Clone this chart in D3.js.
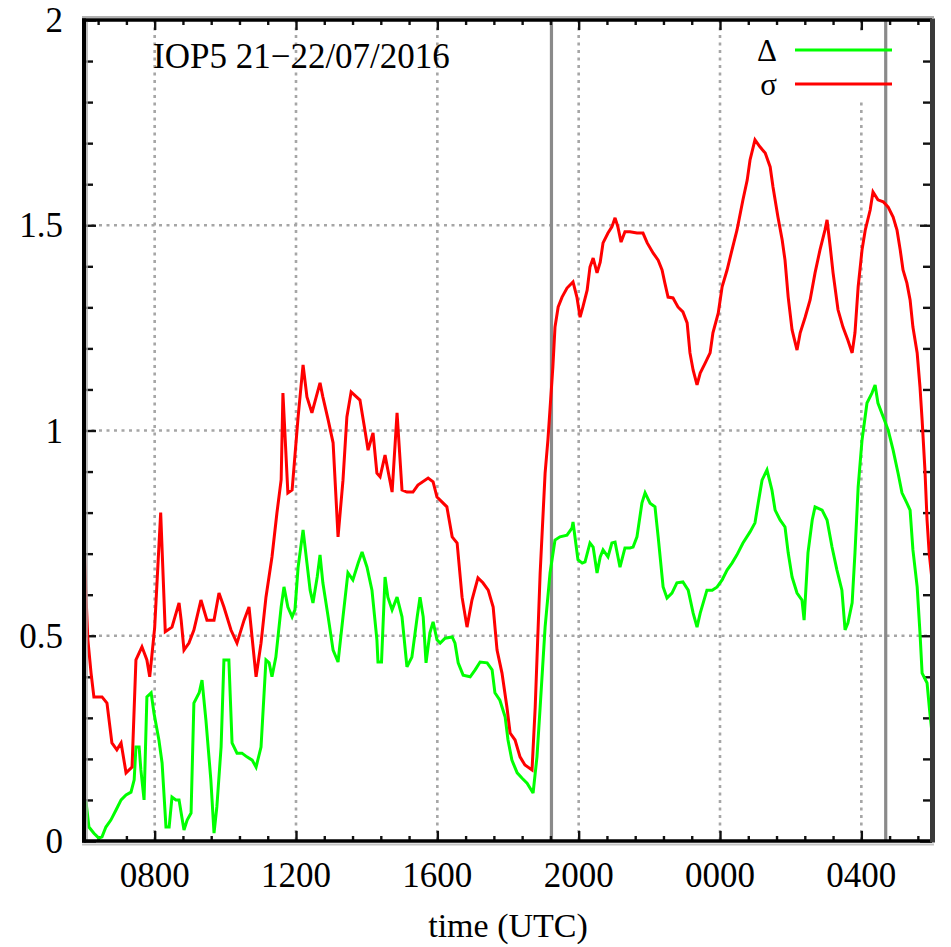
<!DOCTYPE html>
<html>
<head>
<meta charset="utf-8">
<script src="https://cdn.jsdelivr.net/npm/d3@7"></script>
<style>
  html, body { margin: 0; padding: 0; background: #fff; }
  svg { display: block; }
  text { font-family: "Liberation Serif", "Times New Roman", serif; fill: #000; }
</style>
</head>
<body>
<svg id="chart" width="951" height="947"></svg>
<script>
// Time axis in hours counted from 00 UTC on 21/07 (6 = 0600, 30 = 0600 next day)
const sigmaTime = [6.00,6.06,6.11,6.20,6.28,6.51,6.65,6.79,6.93,7.05,7.19,7.36,7.47,7.64,7.78,7.86,8.00,8.17,8.30,8.49,8.69,8.75,8.83,8.97,9.11,9.31,9.48,9.68,9.82,9.96,10.16,10.33,10.53,10.67,10.87,11.01,11.15,11.32,11.46,11.58,11.63,11.77,11.89,12.06,12.20,12.31,12.45,12.68,12.76,12.91,13.05,13.19,13.33,13.44,13.56,13.81,13.95,14.04,14.18,14.29,14.38,14.52,14.60,14.72,14.86,15.00,15.14,15.31,15.45,15.74,15.88,15.99,16.13,16.27,16.42,16.56,16.70,16.84,16.98,17.15,17.29,17.44,17.58,17.69,17.83,17.97,18.06,18.20,18.34,18.48,18.68,18.77,18.91,19.05,19.13,19.27,19.33,19.42,19.53,19.67,19.84,19.95,20.04,20.12,20.24,20.32,20.41,20.52,20.61,20.69,20.83,20.94,21.03,21.11,21.20,21.31,21.45,21.65,21.82,21.94,22.11,22.25,22.36,22.44,22.53,22.67,22.81,22.95,23.07,23.15,23.24,23.35,23.44,23.58,23.72,23.80,23.95,24.06,24.20,24.34,24.48,24.65,24.77,24.85,24.99,25.13,25.28,25.42,25.50,25.64,25.76,25.84,25.93,26.04,26.18,26.27,26.41,26.55,26.69,26.83,26.97,27.03,27.12,27.20,27.34,27.48,27.62,27.74,27.82,27.91,28.02,28.11,28.25,28.33,28.47,28.62,28.76,28.90,29.01,29.10,29.18,29.29,29.38,29.46,29.58,29.66,29.72,29.80,29.86,29.92,30.00];
const sigmaValue = [0.733,0.59,0.49,0.409,0.351,0.351,0.336,0.239,0.222,0.239,0.166,0.180,0.441,0.473,0.441,0.40,0.52,0.80,0.51,0.521,0.580,0.538,0.465,0.482,0.514,0.587,0.538,0.538,0.604,0.570,0.514,0.482,0.538,0.570,0.400,0.482,0.594,0.692,0.799,0.88,1.091,0.848,0.855,1.033,1.160,1.082,1.043,1.116,1.082,1.026,0.970,0.741,0.879,1.033,1.094,1.074,1.001,0.952,0.994,0.896,0.887,0.940,0.904,0.850,1.043,0.855,0.850,0.850,0.867,0.884,0.875,0.838,0.826,0.814,0.741,0.726,0.594,0.521,0.587,0.641,0.629,0.611,0.570,0.465,0.409,0.326,0.263,0.246,0.205,0.185,0.173,0.326,0.653,0.896,0.977,1.155,1.252,1.301,1.325,1.347,1.362,1.325,1.276,1.301,1.342,1.398,1.420,1.384,1.410,1.457,1.481,1.496,1.518,1.496,1.459,1.484,1.484,1.481,1.481,1.457,1.432,1.415,1.391,1.359,1.325,1.323,1.301,1.289,1.262,1.189,1.147,1.111,1.140,1.164,1.189,1.238,1.286,1.350,1.391,1.440,1.488,1.562,1.610,1.659,1.708,1.691,1.676,1.642,1.593,1.520,1.464,1.415,1.325,1.245,1.196,1.238,1.276,1.318,1.384,1.440,1.488,1.513,1.447,1.384,1.294,1.252,1.220,1.189,1.238,1.350,1.440,1.488,1.537,1.581,1.562,1.557,1.544,1.520,1.488,1.440,1.391,1.359,1.318,1.252,1.189,1.106,1.026,0.904,0.782,0.702,0.636];

const deltaTime = [6.00,6.06,6.14,6.28,6.42,6.51,6.62,6.76,6.91,7.05,7.19,7.33,7.42,7.47,7.56,7.61,7.70,7.78,7.90,7.98,8.12,8.21,8.32,8.41,8.49,8.60,8.69,8.77,8.83,8.92,9.03,9.11,9.26,9.34,9.45,9.59,9.68,9.76,9.88,9.96,10.10,10.19,10.33,10.47,10.61,10.76,10.87,11.01,11.15,11.24,11.32,11.43,11.58,11.66,11.77,11.89,11.97,12.06,12.20,12.31,12.40,12.48,12.60,12.68,12.76,12.91,13.05,13.19,13.33,13.47,13.61,13.76,13.87,14.01,14.15,14.29,14.32,14.42,14.52,14.60,14.72,14.86,15.00,15.14,15.28,15.43,15.51,15.60,15.68,15.79,15.88,15.99,16.08,16.22,16.42,16.50,16.59,16.73,16.93,17.07,17.21,17.41,17.55,17.63,17.77,17.92,18.00,18.11,18.26,18.40,18.54,18.71,18.82,18.91,19.05,19.19,19.33,19.47,19.67,19.81,19.84,19.98,20.10,20.18,20.32,20.41,20.52,20.61,20.69,20.83,20.94,21.03,21.17,21.31,21.45,21.54,21.65,21.79,21.88,22.02,22.16,22.25,22.39,22.50,22.64,22.78,22.95,23.10,23.24,23.35,23.44,23.63,23.78,23.92,24.06,24.20,24.34,24.48,24.65,24.85,24.99,25.08,25.19,25.33,25.47,25.56,25.70,25.84,25.93,26.04,26.18,26.32,26.38,26.49,26.61,26.69,26.89,27.03,27.17,27.31,27.45,27.54,27.62,27.74,27.82,27.91,28.02,28.16,28.30,28.39,28.47,28.62,28.76,28.90,29.04,29.15,29.29,29.38,29.46,29.58,29.66,29.72,29.86,29.93,30.00];
const deltaValue = [0.10,0.093,0.034,0.019,0.007,0.010,0.034,0.051,0.076,0.100,0.112,0.119,0.149,0.229,0.229,0.173,0.100,0.351,0.361,0.312,0.246,0.190,0.034,0.034,0.107,0.100,0.100,0.058,0.027,0.051,0.068,0.336,0.361,0.392,0.295,0.149,0.019,0.083,0.229,0.441,0.441,0.239,0.214,0.214,0.205,0.197,0.180,0.229,0.441,0.434,0.400,0.448,0.570,0.619,0.570,0.546,0.563,0.667,0.758,0.677,0.611,0.580,0.643,0.697,0.629,0.546,0.465,0.436,0.546,0.653,0.636,0.677,0.704,0.667,0.611,0.490,0.436,0.436,0.643,0.594,0.563,0.594,0.546,0.424,0.448,0.546,0.594,0.546,0.434,0.507,0.534,0.490,0.482,0.494,0.497,0.482,0.434,0.404,0.400,0.417,0.436,0.434,0.417,0.361,0.343,0.302,0.246,0.197,0.166,0.153,0.141,0.117,0.205,0.326,0.521,0.653,0.733,0.741,0.745,0.762,0.777,0.685,0.677,0.680,0.726,0.716,0.653,0.692,0.709,0.692,0.726,0.728,0.667,0.714,0.714,0.716,0.741,0.823,0.848,0.823,0.814,0.741,0.619,0.592,0.604,0.629,0.631,0.611,0.555,0.521,0.555,0.611,0.611,0.619,0.636,0.660,0.677,0.697,0.726,0.753,0.775,0.823,0.879,0.904,0.855,0.806,0.782,0.765,0.702,0.643,0.604,0.587,0.538,0.702,0.782,0.814,0.806,0.782,0.716,0.660,0.611,0.514,0.531,0.580,0.702,0.862,0.977,1.067,1.091,1.111,1.067,1.033,1.001,0.952,0.896,0.848,0.823,0.806,0.709,0.619,0.507,0.409,0.385,0.32,0.263];

// Axis ticks and labels
const xTickHours = [8, 12, 16, 20, 24, 28];
const xTickLabels = ["0800", "1200", "1600", "2000", "0000", "0400"];
const yTickValues = [0, 0.5, 1, 1.5, 2];
const yTickLabels = ["0", "0.5", "1", "1.5", "2"];
// Event markers (solid vertical lines)
const markerTimes = [19.23, 28.69];

const seriesNames = ["Δ", "σ"];
const seriesColors = ["#00ff00", "#ff0000"];
const titleText = "IOP5 21\u221222/07/2016";

const svg = d3.select("#chart");
const L = 84, R = 932, T = 20, B = 841;
const x = d3.scaleLinear().domain([6, 30]).range([L, R]);
const y = d3.scaleLinear().domain([0, 2]).range([B, T]);

// grid (dotted)
const grid = svg.append("g");
grid.selectAll("line.gx").data(xTickHours).join("line")
  .attr("x1", d => x(d)).attr("x2", d => x(d)).attr("y1", T).attr("y2", B)
  .attr("stroke", "#a6a6a6").attr("stroke-width", 2.6).attr("stroke-dasharray", "3,4.5");
grid.selectAll("line.gy").data([0.5, 1, 1.5]).join("line")
  .attr("x1", L).attr("x2", R).attr("y1", d => y(d)).attr("y2", d => y(d))
  .attr("stroke", "#a6a6a6").attr("stroke-width", 2.6).attr("stroke-dasharray", "3,4.5");

// legend background blanks the grid behind the key
svg.append("rect").attr("x", 745).attr("y", 32).attr("width", 155).attr("height", 70).attr("fill", "#fff");

// event markers
svg.append("g").selectAll("line").data(markerTimes).join("line")
  .attr("x1", d => x(d)).attr("x2", d => x(d)).attr("y1", T).attr("y2", B)
  .attr("stroke", "#8a8a8a").attr("stroke-width", 3.2);

// axes with inward ticks (mirrored on the opposite side)
const xMinor = d3.range(6.4, 30, 0.8).filter(h => !xTickHours.some(t => Math.abs(t - h) < 0.01));
const yMinor = d3.range(0.1, 2, 0.1).filter(v => Math.abs(v * 2 - Math.round(v * 2)) > 0.01);

function axisLines(sel, axis) { sel.call(axis); sel.select(".domain").remove(); sel.selectAll(".tick line").attr("stroke", "#111").attr("stroke-width", 2.4); sel.selectAll("text").remove(); }

svg.append("g").attr("transform", `translate(0,${B})`).call(g => axisLines(g, d3.axisBottom(x).tickValues(xTickHours).tickSizeInner(-10)));
svg.append("g").attr("transform", `translate(0,${B})`).call(g => axisLines(g, d3.axisBottom(x).tickValues(xMinor).tickSizeInner(-5)));
svg.append("g").attr("transform", `translate(0,${T})`).call(g => axisLines(g, d3.axisTop(x).tickValues(xTickHours).tickSizeInner(-10)));
svg.append("g").attr("transform", `translate(0,${T})`).call(g => axisLines(g, d3.axisTop(x).tickValues(xMinor).tickSizeInner(-5)));
svg.append("g").attr("transform", `translate(${L},0)`).call(g => axisLines(g, d3.axisLeft(y).tickValues(yTickValues).tickSizeInner(-12)));
svg.append("g").attr("transform", `translate(${L},0)`).call(g => axisLines(g, d3.axisLeft(y).tickValues(yMinor).tickSizeInner(-9)));
svg.append("g").attr("transform", `translate(${R},0)`).call(g => axisLines(g, d3.axisRight(y).tickValues(yTickValues).tickSizeInner(-12)));
svg.append("g").attr("transform", `translate(${R},0)`).call(g => axisLines(g, d3.axisRight(y).tickValues(yMinor).tickSizeInner(-9)));

// data lines
const clip = svg.append("clipPath").attr("id", "plotclip").append("rect")
  .attr("x", L).attr("y", T).attr("width", R - L).attr("height", B - T);
const line = d3.line().x(d => x(d[0])).y(d => y(d[1]));
const series = [d3.zip(deltaTime, deltaValue), d3.zip(sigmaTime, sigmaValue)];
svg.append("g").attr("clip-path", "url(#plotclip)").selectAll("path").data(series).join("path")
  .attr("d", line).attr("fill", "none")
  .attr("stroke", (d, i) => seriesColors[i]).attr("stroke-width", 3)
  .attr("stroke-linejoin", "miter").attr("stroke-miterlimit", 3);

// frame
svg.append("line").attr("x1", L - 2).attr("x2", R + 2).attr("y1", T - 3).attr("y2", T - 3).attr("stroke", "#b0b0b0").attr("stroke-width", 2);
svg.append("line").attr("x1", L - 2).attr("x2", R + 2).attr("y1", B + 3.5).attr("y2", B + 3.5).attr("stroke", "#c4c4c4").attr("stroke-width", 2);
svg.append("line").attr("x1", L + 3).attr("x2", L + 3).attr("y1", T).attr("y2", B).attr("stroke", "#aaa").attr("stroke-width", 1.5);
svg.append("line").attr("x1", L - 2).attr("x2", R).attr("y1", T).attr("y2", T).attr("stroke", "#000").attr("stroke-width", 3.4);
svg.append("line").attr("x1", L - 2).attr("x2", R).attr("y1", B).attr("y2", B).attr("stroke", "#000").attr("stroke-width", 3.6);
svg.append("line").attr("x1", L).attr("x2", L).attr("y1", T - 1.5).attr("y2", B + 1.5).attr("stroke", "#000").attr("stroke-width", 4);
svg.append("line").attr("x1", R + 0.5).attr("x2", R + 0.5).attr("y1", T - 1.5).attr("y2", B + 1.5).attr("stroke", "#3a3a3a").attr("stroke-width", 5);

// tick labels
svg.append("g").selectAll("text").data(xTickHours).join("text")
  .attr("x", d => x(d)).attr("y", 887).attr("text-anchor", "middle")
  .attr("font-size", 35).text((d, i) => xTickLabels[i]);
svg.append("g").selectAll("text").data(yTickValues).join("text")
  .attr("x", 63).attr("y", d => y(d) + 12).attr("text-anchor", "end")
  .attr("font-size", 35).text((d, i) => yTickLabels[i]);

// axis title
svg.append("text").attr("x", (L + R) / 2).attr("y", 937).attr("text-anchor", "middle")
  .attr("font-size", 34).text("time (UTC)");

// plot title
svg.append("text").attr("x", 153).attr("y", 68).attr("font-size", 35).text(titleText);

// legend
const legend = svg.append("g");
seriesNames.forEach((name, i) => {
  const ly = 50 + i * 34;
  legend.append("text").attr("x", 777).attr("y", ly + 11).attr("text-anchor", "end")
    .attr("font-size", 31).text(name);
  legend.append("line").attr("x1", 795).attr("x2", 892).attr("y1", ly).attr("y2", ly)
    .attr("stroke", seriesColors[i]).attr("stroke-width", 3);
});
</script>
</body>
</html>
